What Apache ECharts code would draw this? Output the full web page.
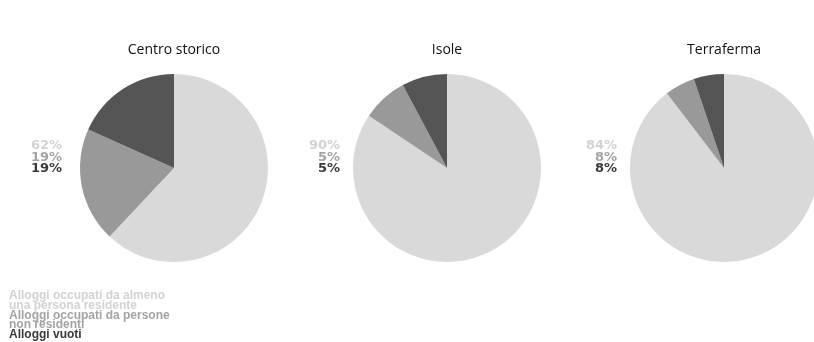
<!DOCTYPE html>
<html>
<head>
<meta charset="utf-8">
<script src="https://cdn.jsdelivr.net/npm/echarts@6/dist/echarts.min.js"></script>
<style>
  html, body { margin: 0; padding: 0; background: #fff; }
  #chart { width: 814px; height: 342px; }
</style>
</head>
<body>
<div id="chart"></div>
<script>
// categories, shared by the three pies
const categories = [
  "Alloggi occupati da almeno\nuna persona residente",
  "Alloggi occupati da persone\nnon residenti",
  "Alloggi vuoti",
];
const areas = ["Centro storico", "Isole", "Terraferma"];

// slice sizes as drawn (percent)
const centroValues = [62, 19.7, 18.3];
const isoleValues = [84.4, 7.8, 7.8];
const terrafermaValues = [89.6, 5.2, 5.2];

// printed percentages beside each pie
const centroLabels = ["62%", "19%", "19%"];
const isoleLabels = ["90%", "5%", "5%"];
const terrafermaLabels = ["84%", "8%", "8%"];

const sliceColors = ["#d9d9d9", "#999999", "#555555"];
const textColors = ["#d2d2d2", "#a3a3a3", "#3a3a3a"];

const pieValues = [centroValues, isoleValues, terrafermaValues];
const pieLabels = [centroLabels, isoleLabels, terrafermaLabels];
const centersX = [174, 447, 724];
const labelRight = [62, 340, 617];

const chart = echarts.init(document.getElementById("chart"), null, { renderer: "canvas" });

const pctStyle = (k) => ({
  color: textColors[k],
  fontFamily: "DejaVu Sans, sans-serif",
  fontWeight: "bold",
  fontSize: 13,
  lineHeight: 11.5,
  align: "right",
});

const titles = [];
areas.forEach((name, i) => {
  titles.push({
    text: name,
    left: centersX[i],
    top: 43,
    padding: 0,
    textAlign: "center",
    textStyle: { fontFamily: "Open Sans, sans-serif", fontWeight: "normal", fontSize: 14, color: "#111" },
  });
  titles.push({
    text: pieLabels[i].map((t, k) => `{c${k}|${t}}`).join("\n"),
    left: labelRight[i],
    top: 140,
    padding: 0,
    textAlign: "right",
    textStyle: { rich: { c0: pctStyle(0), c1: pctStyle(1), c2: pctStyle(2) } },
  });
});

chart.setOption({
  animation: false,
  color: sliceColors,
  title: titles,
  legend: {
    orient: "vertical",
    left: 4,
    top: 290,
    icon: "none",
    itemWidth: 0,
    itemHeight: 8,
    itemGap: -2.5,
    padding: 0,
    selectedMode: false,
    data: categories.map((c, k) => ({
      name: c,
      textStyle: { color: textColors[k] },
    })),
    textStyle: { fontFamily: "Liberation Sans, Arial, sans-serif", fontWeight: "bold", fontSize: 12, lineHeight: 9.8 },
  },
  series: pieValues.map((vals, i) => ({
    type: "pie",
    name: areas[i],
    center: [centersX[i], 168],
    radius: 94,
    startAngle: 90,
    clockwise: true,
    label: { show: false },
    labelLine: { show: false },
    emphasis: { disabled: true },
    itemStyle: { borderWidth: 0 },
    data: vals.map((v, k) => ({ name: categories[k], value: v })),
  })),
});
</script>
</body>
</html>
